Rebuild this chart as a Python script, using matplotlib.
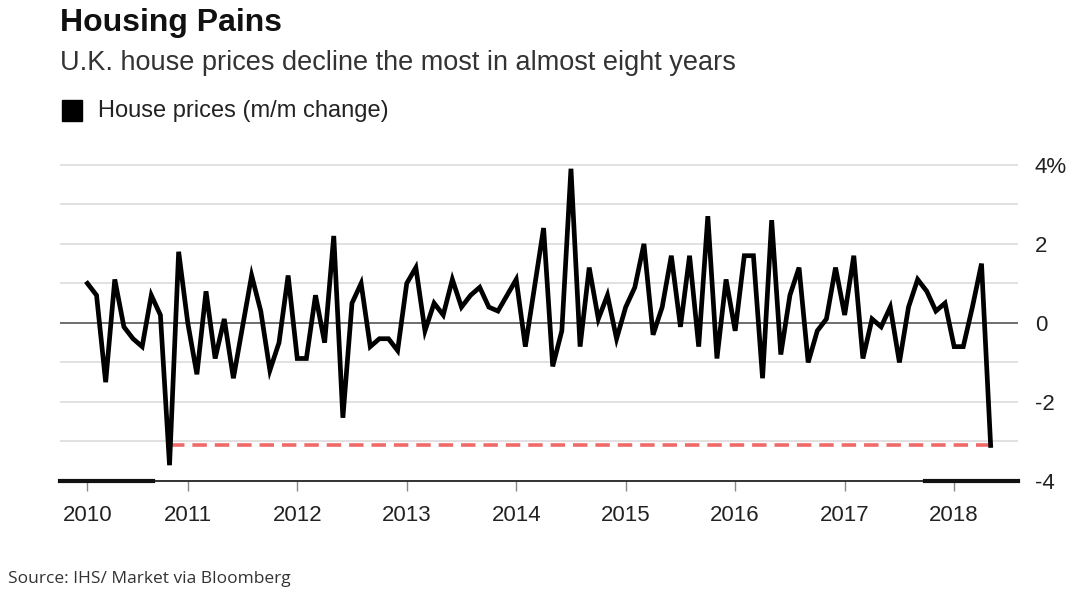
import numpy as np
import pandas as pd
import matplotlib
matplotlib.use('Agg')
import matplotlib.pyplot as plt

# m/m change in UK house prices, monthly Feb 2010 .. May 2018
months = pd.date_range('2010-02-01', '2018-05-01', freq='MS')
change = [1.0, 0.7, -1.5, 1.1, -0.1, -0.4, -0.6, 0.7, 0.2, -3.6,
          1.8, 0.0, -1.3, 0.8, -0.9, 0.1, -1.4, -0.1, 1.2, 0.3,
          -1.2, -0.5, 1.2, -0.9, -0.9, 0.7, -0.5, 2.2, -2.4, 0.5,
          1.0, -0.6, -0.4, -0.4, -0.7, 1.0, 1.4, -0.2, 0.5, 0.2,
          1.1, 0.4, 0.7, 0.9, 0.4, 0.3, 0.7, 1.1, -0.6, 0.9,
          2.4, -1.1, -0.2, 3.9, -0.6, 1.4, 0.1, 0.7, -0.4, 0.4,
          0.9, 2.0, -0.3, 0.4, 1.7, -0.1, 1.7, -0.6, 2.7, -0.9,
          1.1, -0.2, 1.7, 1.7, -1.4, 2.6, -0.8, 0.7, 1.4, -1.0,
          -0.2, 0.1, 1.4, 0.2, 1.7, -0.9, 0.1, -0.1, 0.4, -1.0,
          0.4, 1.1, 0.8, 0.3, 0.5, -0.6, -0.6, 0.4, 1.5, -3.1]
prev_low = 9  # index of the last comparable drop

y_ticks = [-4, -2, 0, 2, 4]
y_labels = ['-4', '-2', '0', '2', '4%']

plt.rcParams['font.family'] = ['Liberation Sans', 'DejaVu Sans']

x = np.arange(len(change))
fig = plt.figure(figsize=(10.8, 5.94), dpi=100)
ax = fig.add_axes([0.0556, 0.1902, 0.887, 0.547])

# grid
for g in range(-3, 5):
    if g == 0:
        ax.axhline(g, color='#555555', lw=1.2, zorder=1)
    else:
        ax.axhline(g, color='#dcdcdc', lw=1.2, zorder=0)

ax.hlines(change[-1], x[prev_low], x[-1], color='#f06a6a', lw=2.6,
          linestyles=(0, (4, 2.2)), zorder=2)
ax.plot(x, change, color='black', lw=3.4, solid_joinstyle='miter', zorder=3)

ax.set_xlim(-3, 102)
ax.set_ylim(-4, 4.22)

# years: first label at series start, then every January
tick_pos = [0] + [i for i, m in enumerate(months) if m.month == 1]
tick_lab = [str(months[i].year) for i in tick_pos]
ax.set_xticks(tick_pos)
ax.set_xticklabels(tick_lab, fontsize=16, color='#222222')
ax.tick_params(axis='x', length=7, width=1, color='#888888', pad=10)

ax.yaxis.tick_right()
ax.set_yticks(y_ticks)
ax.set_yticklabels(y_labels, fontsize=16, color='#222222')
ax.tick_params(axis='y', length=0, pad=12)

for s in ['top', 'left', 'right']:
    ax.spines[s].set_visible(False)
ax.spines['bottom'].set_color('#222222')
ax.spines['bottom'].set_linewidth(1.3)
ax.axhline(-4, xmin=0, xmax=0.097, color='#111111', lw=3, clip_on=False, zorder=4)
ax.axhline(-4, xmin=0.903, xmax=1, color='#111111', lw=3, clip_on=False, zorder=4)

fig.text(0.0556, 0.962, 'Housing Pains', fontsize=23, fontweight='bold',
         va='center', ha='left', color='#111111')
fig.text(0.0556, 0.894, 'U.K. house prices decline the most in almost eight years',
         fontsize=19.5, va='center', ha='left', color='#333333')
fig.patches.append(plt.Rectangle((0.0574, 0.797), 0.0185, 0.035, color='black',
                                 transform=fig.transFigure, figure=fig))
fig.text(0.0907, 0.813, 'House prices (m/m change)', fontsize=17,
         va='center', ha='left', color='#222222')
fig.text(0.007, 0.025, 'Source: IHS/ Market via Bloomberg', fontsize=12.5,
         va='center', ha='left', color='#333333', family=['Open Sans', 'DejaVu Sans'])

fig.savefig('out.png', dpi=100, facecolor='white')
